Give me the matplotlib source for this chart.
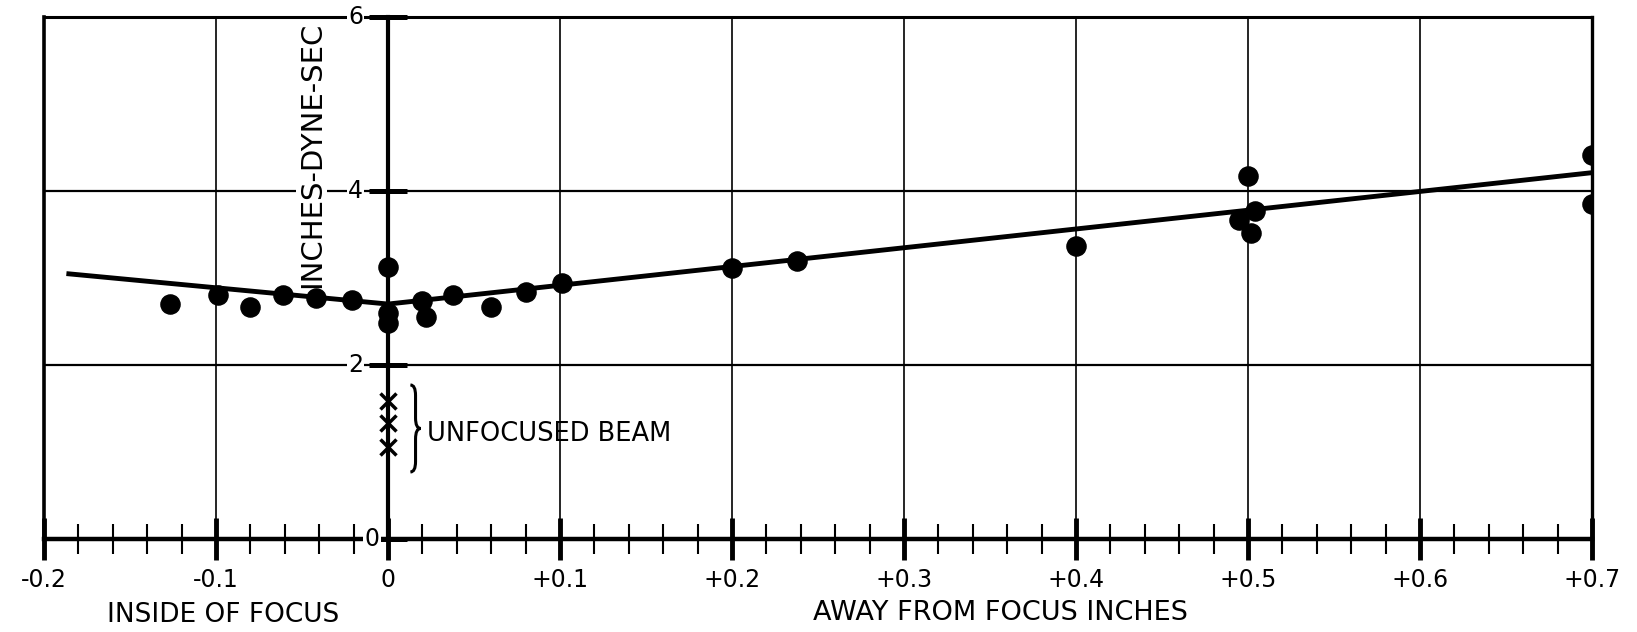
import matplotlib
matplotlib.use('Agg')
import matplotlib.pyplot as plt
from matplotlib.path import Path
from matplotlib.patches import PathPatch
from matplotlib.ticker import MultipleLocator

# ---- data ----
x_major_ticks = [-0.2, -0.1, 0.0, 0.1, 0.2, 0.3, 0.4, 0.5, 0.6, 0.7]
x_tick_labels = ['-0.2', '-0.1', '0', '+0.1', '+0.2', '+0.3', '+0.4', '+0.5', '+0.6', '+0.7']
y_ticks = [0, 2, 4, 6]
y_tick_labels = ['0', '2', '4', '6']

focus_x = [-0.127, -0.099, -0.080, -0.061, -0.042, -0.021, 0.0, 0.0, 0.0,
           0.020, 0.022, 0.038, 0.060, 0.080, 0.101, 0.200, 0.238, 0.400,
           0.500, 0.495, 0.504, 0.502, 0.700, 0.700]
focus_y = [2.70, 2.80, 2.67, 2.80, 2.77, 2.75, 3.13, 2.60, 2.48,
           2.73, 2.55, 2.80, 2.67, 2.84, 2.94, 3.12, 3.20, 3.37,
           4.17, 3.67, 3.77, 3.52, 4.41, 3.85]

unfocused_x = [0.0, 0.0, 0.0]
unfocused_y = [1.59, 1.33, 1.06]

fit_x = [-0.187, 0.0, 0.7]
fit_y = [3.05, 2.70, 4.21]

plt.rcParams['font.family'] = ['DejaVu Sans']

fig = plt.figure(figsize=(16.37, 6.32), dpi=100)
ax = fig.add_axes([0.0269, 0.1472, 0.9456, 0.826])
ax.set_xlim(-0.2, 0.7)
ax.set_ylim(0, 6)

# frame
ax.spines['top'].set_linewidth(2.2)
ax.spines['right'].set_linewidth(2.4)
ax.spines['bottom'].set_linewidth(3.2)
ax.spines['left'].set_position(('data', 0))
ax.spines['left'].set_linewidth(3.0)
ax.axvline(-0.2, color='k', lw=2.6, clip_on=False, zorder=2.5)

# grid
for v in x_major_ticks[1:-1]:
    if v != 0:
        ax.axvline(v, color='k', lw=1.2, zorder=1)
for v in y_ticks[1:-1]:
    ax.axhline(v, color='k', lw=1.6, zorder=1)

# x ticks
ax.set_xticks(x_major_ticks)
ax.set_xticklabels(x_tick_labels, fontsize=17)
ax.xaxis.set_minor_locator(MultipleLocator(0.02))
ax.tick_params(axis='x', which='major', direction='inout', length=30, width=3.5, pad=6)
ax.tick_params(axis='x', which='minor', direction='inout', length=21, width=1.5)

# y ticks
ax.set_yticks(y_ticks)
ax.set_yticklabels([])
ax.tick_params(axis='y', which='major', direction='inout', length=27, width=3.6)
for v, lab in zip(y_ticks, y_tick_labels):
    off = -6 if v == 0 else -18
    ax.annotate(lab, xy=(0, v), xytext=(off, 0), textcoords='offset points',
                ha='right', va='center', fontsize=17, zorder=4,
                bbox=dict(facecolor='white', edgecolor='none', pad=1.0))

# y label
ax.text(-0.0443, 4.41, 'INCHES-DYNE-SEC', rotation=90, ha='center', va='center',
        fontsize=21, zorder=4,
        bbox=dict(facecolor='white', edgecolor='none', pad=1.0))

# axis labels
ax.text(-0.096, -0.874, 'INSIDE OF FOCUS', ha='center', va='center', fontsize=19,
        clip_on=False)
ax.text(0.356, -0.85, 'AWAY FROM FOCUS INCHES', ha='center', va='center', fontsize=19.5,
        clip_on=False)

# fit line and points
ax.plot(fit_x, fit_y, color='k', lw=3.5, solid_capstyle='butt', zorder=4)
ax.plot(focus_x, focus_y, 'o', ms=13.8, color='k', zorder=5)
ax.plot(unfocused_x, unfocused_y, 'x', ms=11, mew=2.5, color='k', zorder=5)

# brace
xc, w, y0, y1, d = 0.016, 0.006, 0.77, 1.77, 0.12
ym = (y0 + y1) / 2
x0 = xc - w / 2
verts = [(x0, y1), (xc, y1), (xc, y1 - d), (xc, ym + d), (xc, ym), (x0 + w, ym),
         (xc, ym), (xc, ym - d), (xc, y0 + d), (xc, y0), (x0, y0)]
codes = [Path.MOVETO, Path.CURVE3, Path.CURVE3, Path.LINETO, Path.CURVE3, Path.CURVE3,
         Path.CURVE3, Path.CURVE3, Path.LINETO, Path.CURVE3, Path.CURVE3]
ax.add_patch(PathPatch(Path(verts, codes), facecolor='none', edgecolor='k', lw=2.2, zorder=4))

ax.text(0.0227, 1.21, 'UNFOCUSED BEAM', ha='left', va='center', fontsize=18.5, zorder=4)

fig.savefig('out.png', dpi=100, facecolor='white')
